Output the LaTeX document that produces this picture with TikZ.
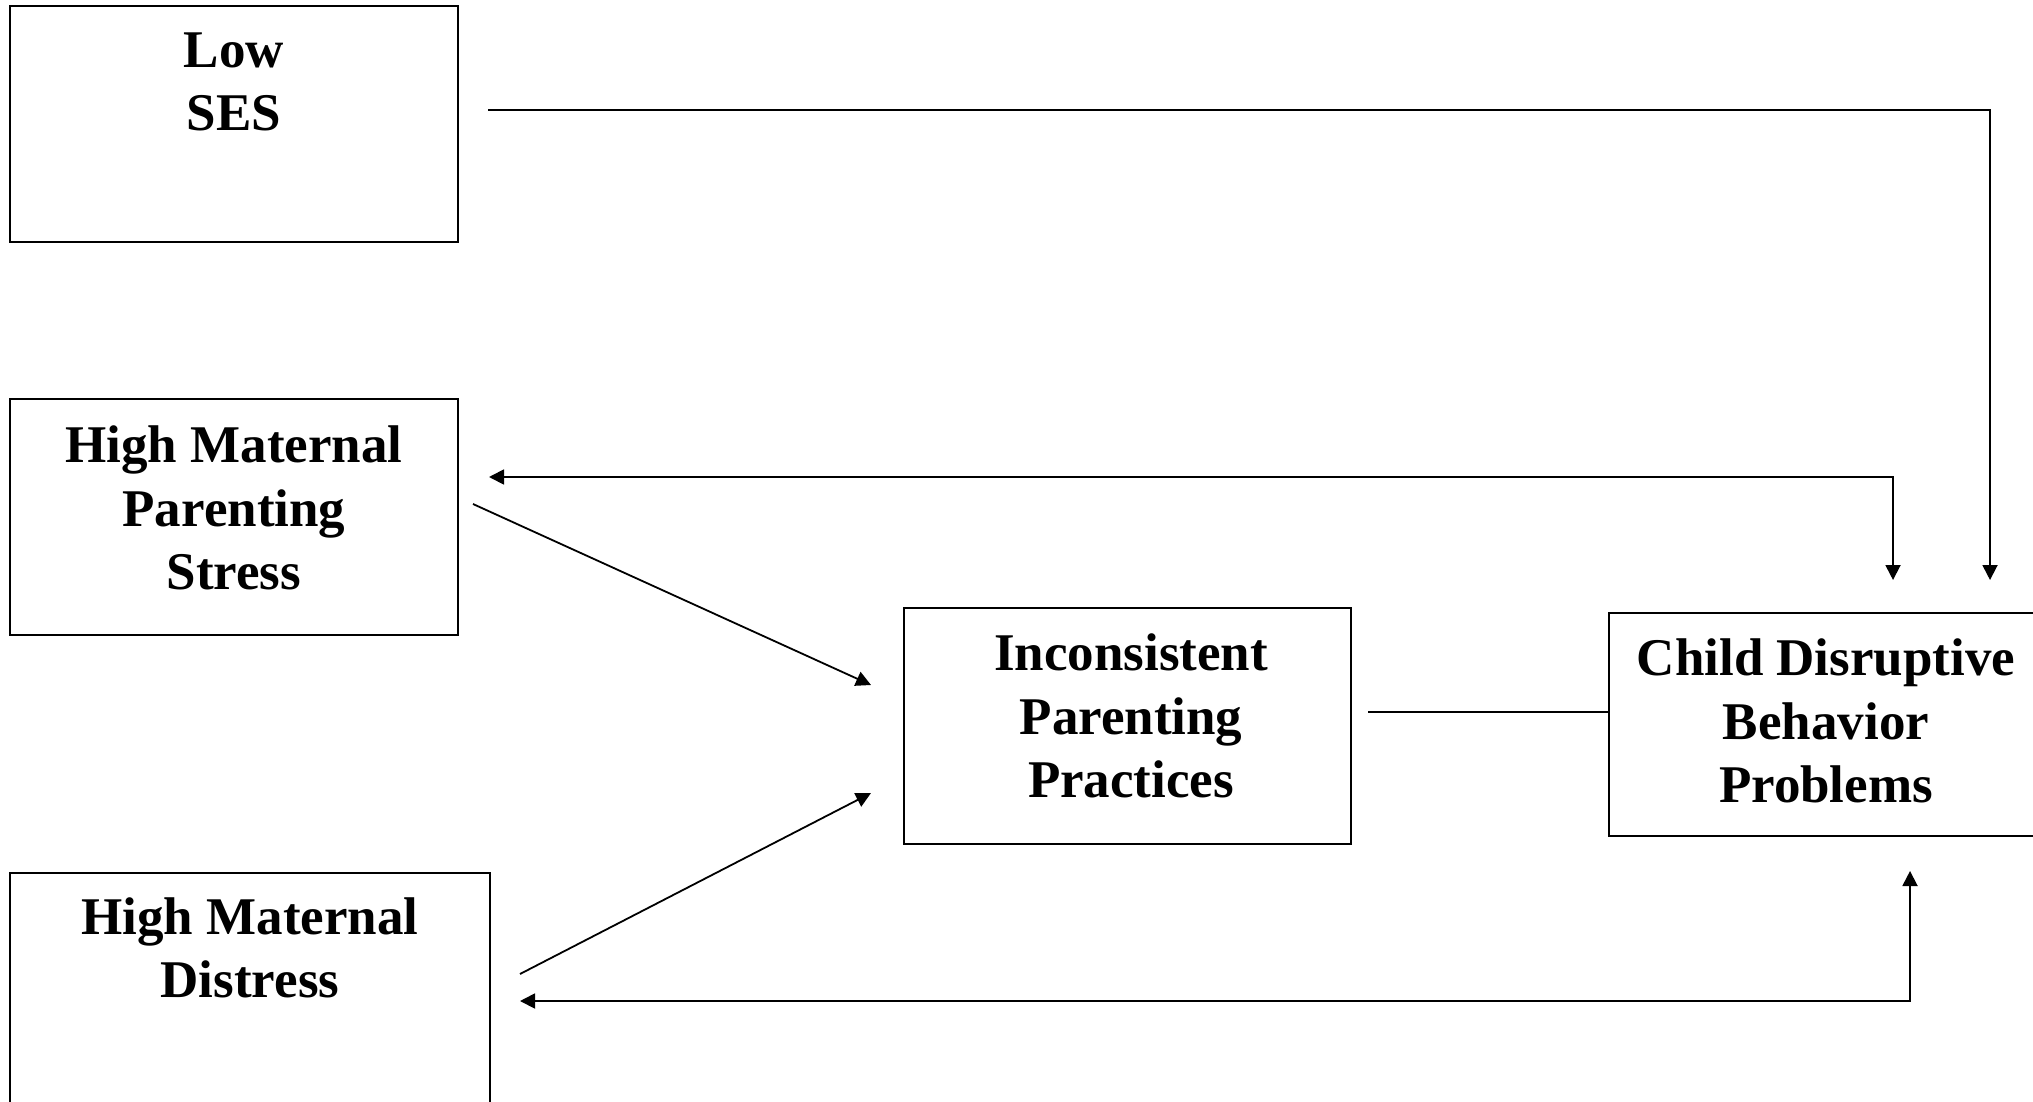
\documentclass[tikz,border=0pt]{standalone}
\usepackage{fontspec}
\setmainfont{Liberation Serif}
\usetikzlibrary{arrows.meta}
\begin{document}
\begin{tikzpicture}[x=1pt,y=-1pt,
  box/.style={draw, line width=2pt, inner sep=0pt, rectangle},
  lbl/.style={align=center, inner sep=0pt, font=\fontsize{53}{63.5}\selectfont\bfseries},
  link/.style={line width=1.8pt},
  arr/.style={link, -{Triangle[length=15pt,width=15pt]}},
  both/.style={link, {Triangle[length=15pt,width=15pt]}-{Triangle[length=15pt,width=15pt]}}]
\useasboundingbox (0,0) rectangle (2033,1102);

% boxes
\node[box, minimum width=448pt, minimum height=236pt] (ses) at (234,124) {};
\node[box, minimum width=448pt, minimum height=236pt] (stress) at (234,517) {};
\node[box, minimum width=480pt, minimum height=247pt] (distress) at (250,996.5) {};
\node[box, minimum width=447pt, minimum height=236pt] (incons) at (1127.5,726) {};
\node[box, minimum width=431pt, minimum height=223pt] (child) at (1824.5,724.5) {};

% labels
\node[lbl] (sesT) at (234,82) {Low\\SES};
\node[lbl] (stressT) at (234,508) {High Maternal\\Parenting\\Stress};
\node[lbl] (distressT) at (250,948) {High Maternal\\Distress};
\node[lbl] (inconsT) at (1131,716) {Inconsistent\\Parenting\\Practices};
\node[lbl] (childT) at (1826,721) {Child Disruptive\\Behavior\\Problems};

% free ends of the connectors
\coordinate (a0) at (488,110);
\coordinate (a1) at (1990,110);
\coordinate (a2) at (1990,580);
\coordinate (b0) at (489,477);
\coordinate (b1) at (1893,477);
\coordinate (b2) at (1893,580);
\coordinate (c0) at (473,504);
\coordinate (c1) at (871,685);
\coordinate (d0) at (520,974);
\coordinate (d1) at (871,793);
\coordinate (e0) at (1368,712);
\coordinate (f0) at (520,1001);
\coordinate (f1) at (1910,1001);
\coordinate (f2) at (1910,871);

% connectors
\draw[arr] (a0) -- (a1) -- (a2);
\draw[both] (b0) -- (b1) -- (b2);
\draw[arr] (c0) -- (c1);
\draw[arr] (d0) -- (d1);
\draw[link] (e0) -- (e0 -| child.west);
\draw[both] (f0) -- (f1) -- (f2);
\end{tikzpicture}
\end{document}
